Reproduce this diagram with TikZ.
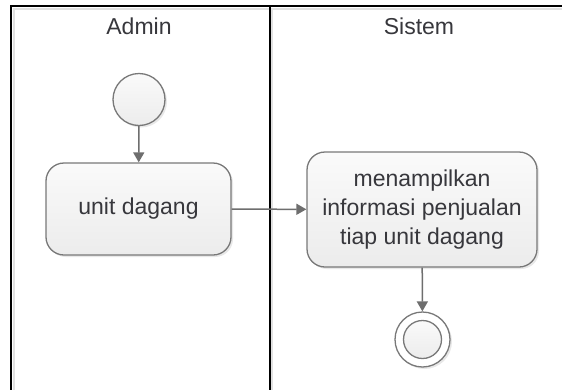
\documentclass[tikz,border=0pt]{standalone}
\usepackage{fontspec}
\setmainfont{Liberation Sans}
\usetikzlibrary{arrows.meta,shadows}
\definecolor{linegray}{RGB}{110,110,110}
\definecolor{bordergray}{RGB}{120,120,120}
\definecolor{filltop}{RGB}{250,250,250}
\definecolor{fillbot}{RGB}{236,236,236}
\definecolor{txt}{RGB}{55,55,60}
\definecolor{frameshadow}{RGB}{225,225,225}
\begin{document}
\begin{tikzpicture}[x=1pt,y=-1pt,
  txtstyle/.style={font=\fontsize{23}{29}\selectfont, text=txt},
  act/.style={draw=bordergray, line width=1.3pt, rounded corners=18pt,
    top color=filltop, bottom color=fillbot, align=center, inner sep=0pt,
    txtstyle, drop shadow={opacity=0.18, shadow xshift=2pt, shadow yshift=-2pt}},
  startnode/.style={circle, draw=bordergray, line width=1.3pt, inner sep=0pt,
    top color=filltop, bottom color=fillbot,
    drop shadow={opacity=0.18, shadow xshift=2pt, shadow yshift=-2pt}},
  endouter/.style={circle, draw=bordergray, line width=1.3pt, inner sep=0pt, fill=white,
    drop shadow={opacity=0.18, shadow xshift=2pt, shadow yshift=-2pt}},
  endinner/.style={circle, draw=bordergray, line width=1.3pt, inner sep=0pt,
    top color=filltop, bottom color=fillbot},
  arr/.style={draw=linegray, line width=1.5pt,
    -{Triangle[length=10pt,width=11pt]}, color=linegray},
  frame/.style={draw=black, line width=2pt},
  fshadow/.style={draw=frameshadow, line width=2pt}
]
\useasboundingbox (0,0) rectangle (562,389);
\clip (0,0) rectangle (562,389);
\fill[white] (0,0) rectangle (562,389);
% frame shadows
\draw[fshadow] (13.5,400) -- (13.5,8.5) -- (600,8.5);
\draw[fshadow] (272,8.5) -- (272,400);
% frame
\draw[frame] (11,400) -- (11,6) -- (600,6);
\draw[frame] (269.5,6) -- (269.5,400);
% lane headers
\node[txtstyle, anchor=base] (hadmin) at (139,34) {Admin};
\node[txtstyle, anchor=base] (hsistem) at (419,34) {Sistem};
% nodes
\node[startnode, minimum size=52pt] (st) at (139,99.5) {};
\node[act, minimum width=185pt, minimum height=92pt] (ud) at (138.5,209) {unit dagang};
\node[act, minimum width=230pt, minimum height=115pt] (mi) at (422,209.5)
  {menampilkan\\informasi penjualan\\tiap unit dagang};
\node[endouter, minimum size=55pt] (fin) at (422.5,339.5) {};
\node[endinner, minimum size=38pt] (fini) at (fin) {};
% connectors
\draw[arr] (st) -- (ud);
\draw[arr] (ud) -- (mi);
\draw[arr] (mi) -- (fin);
\end{tikzpicture}
\end{document}
